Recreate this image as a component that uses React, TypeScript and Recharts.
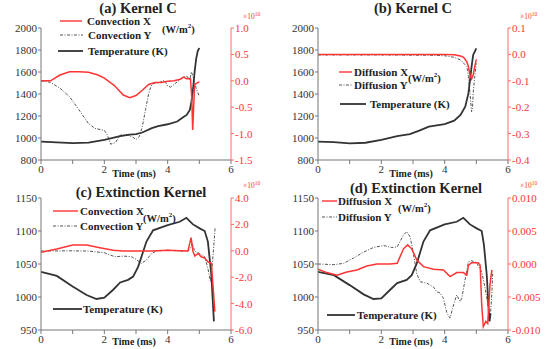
import React from "react";
import { ComposedChart, Line, XAxis, YAxis } from "recharts";

const RED = "#ff3434";
const DARK = "#333333";
const DASH = "#555555";
const SERIF = "Liberation Serif, DejaVu Serif, serif";

const timeTicks = [0, 1, 2, 3, 4, 5, 6];

// (a) Kernel C, convection
const aTempT = [0, 0.5, 1, 1.5, 2, 2.5, 2.8, 3, 3.2, 3.5, 3.7, 4, 4.3, 4.5, 4.6, 4.7, 4.75, 4.8, 4.85, 4.9, 4.95, 5.0];
const aTemp = [967, 960, 953, 958, 983, 1018, 1030, 1036, 1050, 1090, 1108, 1125, 1150, 1190, 1210, 1255, 1330, 1440, 1600, 1720, 1790, 1818];
const aConvXT = [0, 0.3, 0.6, 0.9, 1.2, 1.5, 1.8, 2.0, 2.3, 2.6, 2.8, 3.0, 3.2, 3.4, 3.6, 3.8, 4.0, 4.2, 4.4, 4.5, 4.6, 4.72, 4.76, 4.79, 4.82, 4.85, 4.9, 5.0];
const aConvX = [0, 0, 0.11, 0.17, 0.17, 0.16, 0.11, 0.05, -0.08, -0.27, -0.32, -0.28, -0.18, -0.07, -0.03, -0.03, -0.01, 0, 0.03, 0.07, 0.04, 0.04, -0.3, -0.93, -0.5, -0.08, -0.05, -0.02];
const aConvYT = [0, 0.3, 0.6, 0.9, 1.2, 1.5, 1.7, 2.0, 2.1, 2.2, 2.35, 2.5, 2.7, 2.9, 3.0, 3.1, 3.2, 3.3, 3.4, 3.5, 3.7, 3.9, 4.0, 4.1, 4.3, 4.5, 4.6, 4.7, 4.75, 4.8, 4.85, 4.9, 5.0];
const aConvY = [0, -0.03, -0.14, -0.3, -0.55, -0.81, -0.9, -0.94, -1.03, -1.2, -1.17, -1.03, -1.02, -1.07, -1.11, -1.06, -0.87, -0.55, -0.24, -0.06, -0.04, 0.01, -0.1, -0.12, -0.02, 0.07, 0.09, 0.02, 0.17, 0.08, -0.05, -0.14, -0.3];

// (b) Kernel C, diffusion
const bTempT = [0, 0.5, 1, 1.5, 2, 2.5, 2.9, 3.2, 3.5, 4, 4.3, 4.5, 4.65, 4.75, 4.8, 4.85, 4.9, 5.0];
const bTemp = [967, 962, 952, 957, 982, 1018, 1036, 1067, 1103, 1127, 1158, 1209, 1285, 1406, 1527, 1648, 1755, 1815];
const bDiffXT = [0, 1, 2, 3, 4, 4.3, 4.5, 4.6, 4.7, 4.75, 4.8, 4.85, 4.9, 4.95, 5.0];
const bDiffX = [0, 0, 0, 0, 0, -0.001, -0.006, -0.011, -0.028, -0.046, -0.078, -0.093, -0.078, -0.046, -0.019];
const bDiffYT = [0, 1, 2, 3, 3.5, 4, 4.3, 4.5, 4.7, 4.75, 4.8, 4.85, 4.88, 4.9, 4.95, 5.0];
const bDiffY = [-0.002, -0.002, -0.002, -0.003, -0.003, -0.005, -0.011, -0.021, -0.046, -0.084, -0.147, -0.217, -0.2, -0.147, -0.084, -0.034];

// (c) Extinction Kernel, convection
const cTempT = [0, 0.5, 1, 1.44, 1.75, 2, 2.28, 2.5, 2.75, 2.91, 3.07, 3.33, 3.54, 4, 4.38, 4.59, 4.8, 5.01, 5.17, 5.27, 5.38, 5.46];
const cTemp = [1038, 1032, 1016, 1003, 997, 999, 1011, 1022, 1026, 1031, 1046, 1084, 1101, 1109, 1114, 1120, 1110, 1104, 1100, 1084, 1033, 963];
const cConvXT = [0, 0.5, 1, 1.44, 1.86, 2.28, 2.6, 3, 3.5, 4, 4.4, 4.64, 4.7, 4.74, 4.8, 4.86, 4.96, 5.06, 5.17, 5.28, 5.38, 5.43, 5.49];
const cConvX = [-0.12, 0.13, 0.43, 0.43, 0.23, 0.05, -0.02, -0.02, -0.02, 0.05, 0, -0.02, 0.6, 1.0, -0.05, -0.4, -0.2, -0.45, -0.55, -0.85, -0.95, -2.6, -4.6];
const cConvYT = [0, 1, 1.5, 2, 2.33, 2.6, 2.86, 3, 3.17, 3.33, 3.49, 3.65, 4, 4.38, 4.64, 4.72, 4.78, 4.85, 5, 5.17, 5.27, 5.35, 5.4, 5.45, 5.5];
const cConvY = [-0.02, 0, -0.02, -0.15, -0.45, -0.4, -0.45, -0.65, -0.95, -0.7, -0.2, -0.02, 0.05, -0.02, -0.02, 0.2, 0.56, -0.02, -0.2, -0.45, -1.33, -2.33, -1.3, 0.18, 1.81];

// (d) Extinction Kernel, diffusion
const dTempT = [0, 0.5, 1, 1.44, 1.75, 2, 2.28, 2.5, 2.8, 2.96, 3.12, 3.33, 3.54, 4, 4.38, 4.59, 4.8, 5.01, 5.17, 5.24, 5.33, 5.41, 5.45];
const dTemp = [1038, 1033, 1018, 1004, 997, 998, 1011, 1021, 1026, 1033, 1051, 1084, 1101, 1110, 1114, 1120, 1110, 1104, 1100, 1079, 1033, 963, 975];
const dDiffXT = [0, 0.28, 0.6, 0.91, 1.23, 1.54, 1.86, 2.28, 2.5, 2.7, 2.83, 2.96, 3.12, 3.33, 3.65, 3.96, 4.17, 4.38, 4.59, 4.7, 4.75, 4.85, 5.06, 5.12, 5.17, 5.22, 5.3, 5.36, 5.4, 5.43, 5.49];
const dDiffX = [-0.0008, -0.0013, -0.0017, -0.0012, -0.0009, -0.0003, 0, 0, 0.0001, 0.0023, 0.0029, 0.0023, 0.0006, -0.0004, -0.0008, -0.0009, -0.0019, -0.0013, -0.0013, -0.0017, -0.0002, 0.0002, 0.0002, -0.0002, -0.0062, -0.0095, -0.0087, -0.009, -0.0057, -0.0032, -0.0009];
const dDiffYT = [0, 0.5, 0.81, 1.12, 1.44, 1.75, 2.07, 2.33, 2.5, 2.7, 2.8, 2.91, 3, 3.12, 3.23, 3.44, 3.65, 3.75, 3.86, 3.96, 4.07, 4.17, 4.28, 4.38, 4.49, 4.54, 4.64, 4.75, 4.85, 5.01, 5.17, 5.27, 5.38, 5.43, 5.49, 5.52];
const dDiffY = [0, -0.0001, 0.0001, 0.0009, 0.0018, 0.0025, 0.0028, 0.0025, 0.0026, 0.0044, 0.0049, 0.0041, 0.0019, -0.0015, -0.0027, -0.0029, -0.0035, -0.0042, -0.0044, -0.0052, -0.0074, -0.0082, -0.0062, -0.0047, -0.0057, -0.0052, -0.0025, 0.0003, 0.0005, 0.0002, -0.0012, -0.0035, -0.0065, -0.0087, -0.0045, -0.0012];

type Pt = { t: number; v: number };
const pairs = (t: number[], v: number[]): Pt[] => t.map((x, i) => ({ t: x, v: v[i] }));

type PanelProps = {
  left: number;
  top: number;
  height: number;
  marginTop: number;
  xAxisH: number;
  lDomain: [number, number];
  lTicks: number[];
  rDomain: [number, number];
  rTicks: number[];
  rFmt: (v: number) => string;
  temp: Pt[];
  fx: Pt[];
  fy: Pt[];
};

const tickStyle = { fill: DARK, fontSize: 11, fontFamily: SERIF };

function Panel(p: PanelProps) {
  return (
    <div style={{ position: "absolute", left: p.left, top: p.top }}>
      <ComposedChart width={277} height={p.height} margin={{ top: p.marginTop, right: 0, bottom: 0, left: 0 }} style={{ fontFamily: SERIF }}>
        <XAxis
          dataKey="t"
          type="number"
          domain={[0, 6]}
          ticks={timeTicks}
          tickFormatter={(v: number) => (v % 2 === 0 ? String(v) : "")}
          height={p.xAxisH}
          stroke="#777"
          tick={tickStyle}
          tickSize={4}
          tickMargin={1}
          allowDataOverflow
        />
        <YAxis
          yAxisId="L"
          domain={p.lDomain}
          ticks={p.lTicks}
          width={41}
          stroke="#777"
          tick={tickStyle}
          tickSize={3}
          tickMargin={1}
          allowDataOverflow
        />
        <YAxis
          yAxisId="R"
          orientation="right"
          domain={p.rDomain}
          ticks={p.rTicks}
          tickFormatter={p.rFmt}
          width={46}
          stroke="#ff6a6a"
          tick={{ ...tickStyle, fill: RED }}
          tickSize={3}
          tickMargin={1}
          allowDataOverflow
        />
        <Line data={p.fy} dataKey="v" yAxisId="R" type="linear" dot={false} stroke={DASH} strokeWidth={1} strokeDasharray="3 1.5 1 1.5" isAnimationActive={false} />
        <Line data={p.temp} dataKey="v" yAxisId="L" type="linear" dot={false} stroke={DARK} strokeWidth={1.8} isAnimationActive={false} />
        <Line data={p.fx} dataKey="v" yAxisId="R" type="linear" dot={false} stroke={RED} strokeWidth={1.5} isAnimationActive={false} />
      </ComposedChart>
    </div>
  );
}

function Txt(props: { x: number; y: number; size: number; bold?: boolean; color?: string; middle?: boolean; children: React.ReactNode }) {
  return (
    <div
      style={{
        position: "absolute",
        left: props.x,
        top: props.y,
        transform: props.middle ? "translate(-50%, -50%)" : "translateY(-50%)",
        fontSize: props.size,
        fontWeight: props.bold ? "bold" : "normal",
        color: props.color || "#222",
        whiteSpace: "nowrap",
        lineHeight: 1,
        fontFamily: SERIF,
      }}
    >
      {props.children}
    </div>
  );
}

function Sample(props: { x1: number; x2: number; y: number; kind: "x" | "y" | "t" }) {
  const stroke = props.kind === "x" ? "#ff6060" : props.kind === "t" ? DARK : DASH;
  return (
    <svg style={{ position: "absolute", left: props.x1, top: props.y - 2 }} width={props.x2 - props.x1} height={4}>
      <line
        x1={0}
        x2={props.x2 - props.x1}
        y1={2}
        y2={2}
        stroke={stroke}
        strokeWidth={props.kind === "y" ? 1 : 1.8}
        strokeDasharray={props.kind === "y" ? "3 1.5 1 1.5" : undefined}
      />
    </svg>
  );
}

const Exp = ({ x, y }: { x: number; y: number }) => (
  <Txt x={x} y={y} size={7.5} color={RED}>
    ×10<sup style={{ fontSize: 5.5 }}>10</sup>
  </Txt>
);

const Wm2 = ({ x, y }: { x: number; y: number }) => (
  <Txt x={x} y={y} size={10.5} bold>
    (W/m<sup style={{ fontSize: 7 }}>2</sup>)
  </Txt>
);

export default function App() {
  return (
    <div style={{ position: "absolute", left: 0, top: 0, width: 554, height: 349, background: "#fff", fontFamily: SERIF, overflow: "hidden" }}>
      <Panel left={0} top={0} height={175} marginTop={28} xAxisH={15}
        lDomain={[800, 2000]} lTicks={[800, 1000, 1200, 1400, 1600, 1800, 2000]}
        rDomain={[-1.5, 1.0]} rTicks={[-1.5, -1.0, -0.5, 0, 0.5, 1.0]} rFmt={(v) => v.toFixed(1)}
        temp={pairs(aTempT, aTemp)} fx={pairs(aConvXT, aConvX)} fy={pairs(aConvYT, aConvY)} />
      <Panel left={277} top={0} height={175} marginTop={28} xAxisH={15}
        lDomain={[800, 2000]} lTicks={[800, 1000, 1200, 1400, 1600, 1800, 2000]}
        rDomain={[-0.4, 0.1]} rTicks={[-0.4, -0.3, -0.2, -0.1, 0, 0.1]} rFmt={(v) => v.toFixed(1)}
        temp={pairs(bTempT, bTemp)} fx={pairs(bDiffXT, bDiffX)} fy={pairs(bDiffYT, bDiffY)} />
      <Panel left={0} top={175} height={174} marginTop={23} xAxisH={19}
        lDomain={[950, 1150]} lTicks={[950, 1000, 1050, 1100, 1150]}
        rDomain={[-6, 4]} rTicks={[-6, -4, -2, 0, 2, 4]} rFmt={(v) => v.toFixed(1)}
        temp={pairs(cTempT, cTemp)} fx={pairs(cConvXT, cConvX)} fy={pairs(cConvYT, cConvY)} />
      <Panel left={277} top={175} height={174} marginTop={23} xAxisH={19}
        lDomain={[950, 1150]} lTicks={[950, 1000, 1050, 1100, 1150]}
        rDomain={[-0.01, 0.01]} rTicks={[-0.01, -0.005, 0, 0.005, 0.01]} rFmt={(v) => v.toFixed(3)}
        temp={pairs(dTempT, dTemp)} fx={pairs(dDiffXT, dDiffX)} fy={pairs(dDiffYT, dDiffY)} />

      <Txt x={138} y={8} size={14.5} bold middle>(a) Kernel C</Txt>
      <Txt x={413} y={8} size={14.5} bold middle>(b) Kernel C</Txt>
      <Txt x={141} y={192} size={14.5} bold middle>(c) Extinction Kernel</Txt>
      <Txt x={416} y={188} size={14.5} bold middle>(d) Extinction Kernel</Txt>

      <Exp x={243} y={16} />
      <Exp x={520} y={16} />
      <Exp x={243} y={185} />
      <Exp x={520} y={185} />

      <Txt x={134} y={174} size={10} bold middle>Time (ms)</Txt>
      <Txt x={411} y={174} size={10} bold middle>Time (ms)</Txt>
      <Txt x={134} y={342} size={10} bold middle>Time (ms)</Txt>
      <Txt x={411} y={342} size={10} bold middle>Time (ms)</Txt>

      {/* legend (a) */}
      <Sample x1={60} x2={82} y={21} kind="x" />
      <Txt x={87} y={21} size={11} bold>Convection X</Txt>
      <Sample x1={60} x2={83} y={35} kind="y" />
      <Txt x={88} y={35} size={11} bold>Convection Y</Txt>
      <Sample x1={58} x2={83} y={51} kind="t" />
      <Txt x={88} y={51} size={11} bold>Temperature (K)</Txt>
      <Wm2 x={162} y={29} />

      {/* legend (b) */}
      <Sample x1={339} x2={352} y={72} kind="x" />
      <Txt x={354} y={72} size={11} bold>Diffusion X</Txt>
      <Sample x1={339} x2={352} y={85} kind="y" />
      <Txt x={354} y={85} size={11} bold>Diffusion Y</Txt>
      <Wm2 x={408} y={78} />
      <Sample x1={340} x2={366} y={104} kind="t" />
      <Txt x={370} y={104} size={11} bold>Temperature (K)</Txt>

      {/* legend (c) */}
      <Sample x1={53} x2={78} y={211} kind="x" />
      <Txt x={80} y={211} size={11} bold>Convection X</Txt>
      <Wm2 x={143} y={218} />
      <Sample x1={53} x2={78} y={226} kind="y" />
      <Txt x={80} y={226} size={11} bold>Convection Y</Txt>
      <Sample x1={53} x2={82} y={309} kind="t" />
      <Txt x={83} y={309} size={11} bold>Temperature (K)</Txt>

      {/* legend (d) */}
      <Sample x1={322} x2={337} y={201} kind="x" />
      <Txt x={338} y={201} size={11} bold>Diffusion X</Txt>
      <Wm2 x={398} y={208} />
      <Sample x1={322} x2={337} y={217} kind="y" />
      <Txt x={338} y={217} size={11} bold>Diffusion Y</Txt>
      <Sample x1={327} x2={355} y={315} kind="t" />
      <Txt x={357} y={315} size={11} bold>Temperature (K)</Txt>
    </div>
  );
}
